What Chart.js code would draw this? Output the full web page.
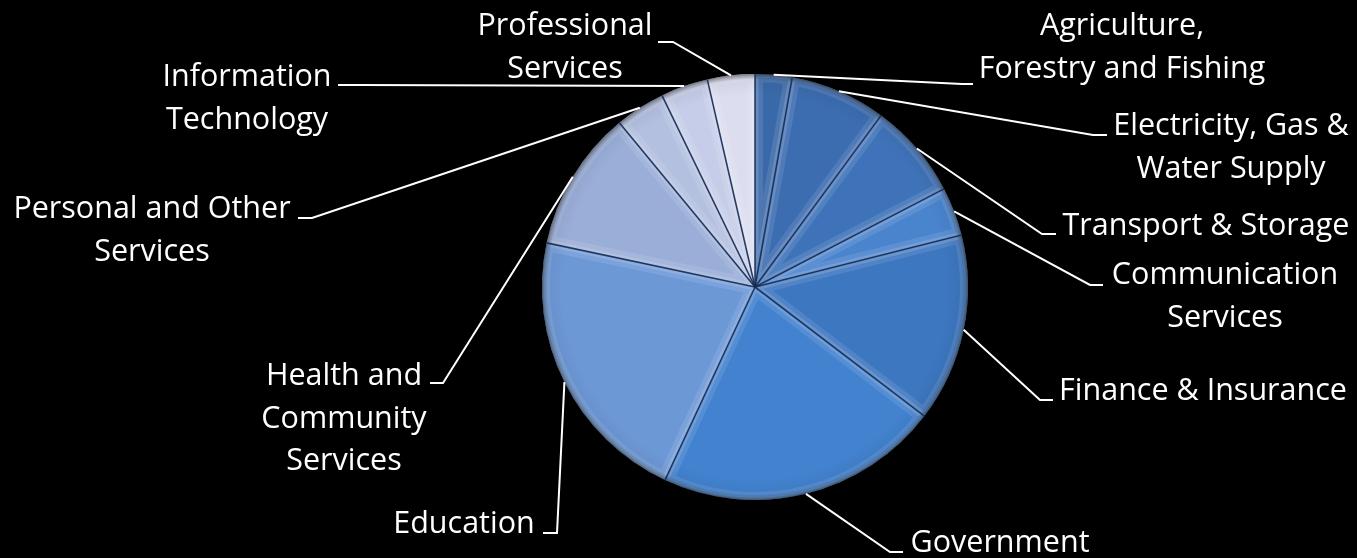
<!DOCTYPE html>
<html>
<head>
<meta charset="utf-8">
<script src="https://cdn.jsdelivr.net/npm/chart.js@4"></script>
<style>
  html, body { margin: 0; padding: 0; background: #000; }
  #wrap { width: 1357px; height: 558px; }
</style>
</head>
<body>
<div id="wrap"><canvas id="c" width="1357" height="558"></canvas></div>
<script>
// Industry sectors, clockwise from 12 o'clock
const categories = [
  ['Agriculture,', 'Forestry and Fishing'],
  ['Electricity, Gas &', 'Water Supply'],
  ['Transport & Storage'],
  ['Communication', 'Services'],
  ['Finance & Insurance'],
  ['Government'],
  ['Education'],
  ['Health and', 'Community', 'Services'],
  ['Personal and Other', 'Services'],
  ['Information', 'Technology'],
  ['Professional', 'Services']
];

// Share of total (%)
const shares = [2.8, 7.3, 7.3, 3.7, 14.3, 21.6, 21.4, 10.7, 3.8, 3.6, 3.6];

const sliceColors = [
  '#3a69a9', '#3c6db1', '#3f73b9', '#4a84cd', '#3d77c0', '#4282cf',
  '#6d98d6', '#9aaed8', '#b4c0e0', '#c6cde8', '#dcdef0'
];

// Label placement: block centre x, first baseline y, elbow of the leader line,
// and length/direction of the short horizontal stub from the elbow.
const labelLayout = [
  { cx: 1122, y: 35,  elbow: [962, 84],  stub: 11 },
  { cx: 1231, y: 135, elbow: [1093, 135], stub: 14 },
  { cx: 1206, y: 235, elbow: [1042, 234], stub: 14 },
  { cx: 1225, y: 284, elbow: [1090, 285], stub: 13 },
  { cx: 1203, y: 400, elbow: [1040, 400], stub: 13 },
  { cx: 1000, y: 552, elbow: [890, 552],  stub: 13 },
  { cx: 464,  y: 533, elbow: [557, 533],  stub: -14 },
  { cx: 344,  y: 385, elbow: [443, 383],  stub: -13 },
  { cx: 152,  y: 218, elbow: [312, 218],  stub: -14 },
  { cx: 247,  y: 86,  elbow: [360, 85],   stub: -22 },
  { cx: 565,  y: 35,  elbow: [673, 42],   stub: -15 }
];
const LINE_HEIGHT = 42.5;

function slicePath(ctx, a) {
  ctx.beginPath();
  ctx.moveTo(a.x, a.y);
  ctx.arc(a.x, a.y, a.outerRadius, a.startAngle, a.endAngle);
  ctx.closePath();
}

const bevelAndLabels = {
  id: 'bevelAndLabels',
  afterDatasetsDraw(chart) {
    const ctx = chart.ctx;
    const arcs = chart.getDatasetMeta(0).data.map(el =>
      el.getProps(['x', 'y', 'startAngle', 'endAngle', 'outerRadius'], true));

    // soft bevel glow along each slice's edges
    arcs.forEach(a => {
      ctx.save();
      slicePath(ctx, a);
      ctx.clip();
      ctx.lineJoin = 'round';
      ctx.lineWidth = 16;
      ctx.strokeStyle = 'rgba(255,255,255,0.10)';
      ctx.stroke();
      ctx.lineWidth = 7;
      ctx.strokeStyle = 'rgba(255,255,255,0.14)';
      ctx.stroke();
      ctx.restore();
    });

    // darkened rim
    const a0 = arcs[0];
    ctx.save();
    const g = ctx.createRadialGradient(a0.x, a0.y, a0.outerRadius * 0.9, a0.x, a0.y, a0.outerRadius);
    g.addColorStop(0, 'rgba(0,0,0,0)');
    g.addColorStop(0.75, 'rgba(0,0,0,0.05)');
    g.addColorStop(1, 'rgba(0,0,0,0.45)');
    ctx.beginPath();
    ctx.arc(a0.x, a0.y, a0.outerRadius, 0, Math.PI * 2);
    ctx.fillStyle = g;
    ctx.fill();
    ctx.restore();

    // dark seams between slices
    ctx.save();
    ctx.strokeStyle = 'rgba(22,44,86,0.9)';
    ctx.lineWidth = 1.6;
    arcs.forEach(a => {
      ctx.beginPath();
      ctx.moveTo(a.x, a.y);
      ctx.lineTo(a.x + Math.cos(a.startAngle) * a.outerRadius,
                 a.y + Math.sin(a.startAngle) * a.outerRadius);
      ctx.stroke();
    });
    ctx.restore();

    // leader lines and labels
    ctx.save();
    ctx.strokeStyle = '#ffffff';
    ctx.lineWidth = 2;
    ctx.fillStyle = '#ffffff';
    ctx.font = '30.5px "Open Sans"';
    ctx.textAlign = 'center';
    ctx.textBaseline = 'alphabetic';
    arcs.forEach((a, i) => {
      const L = labelLayout[i];
      const mid = (a.startAngle + a.endAngle) / 2;
      const sx = a.x + Math.cos(mid) * a.outerRadius;
      const sy = a.y + Math.sin(mid) * a.outerRadius;
      ctx.beginPath();
      ctx.moveTo(sx, sy);
      ctx.lineTo(L.elbow[0], L.elbow[1]);
      ctx.lineTo(L.elbow[0] + L.stub, L.elbow[1]);
      ctx.stroke();
      categories[i].forEach((line, k) => {
        ctx.fillText(line, L.cx, L.y + k * LINE_HEIGHT);
      });
    });
    ctx.restore();
  }
};

new Chart(document.getElementById('c'), {
  type: 'pie',
  data: {
    labels: categories.map(c => c.join(' ')),
    datasets: [{
      data: shares,
      backgroundColor: sliceColors,
      borderWidth: 0
    }]
  },
  options: {
    responsive: false,
    animation: false,
    radius: 213,
    layout: { padding: { left: 153, right: 0, top: 16, bottom: 0 } },
    plugins: {
      legend: { display: false },
      tooltip: { enabled: false }
    }
  },
  plugins: [bevelAndLabels]
});
</script>
</body>
</html>
